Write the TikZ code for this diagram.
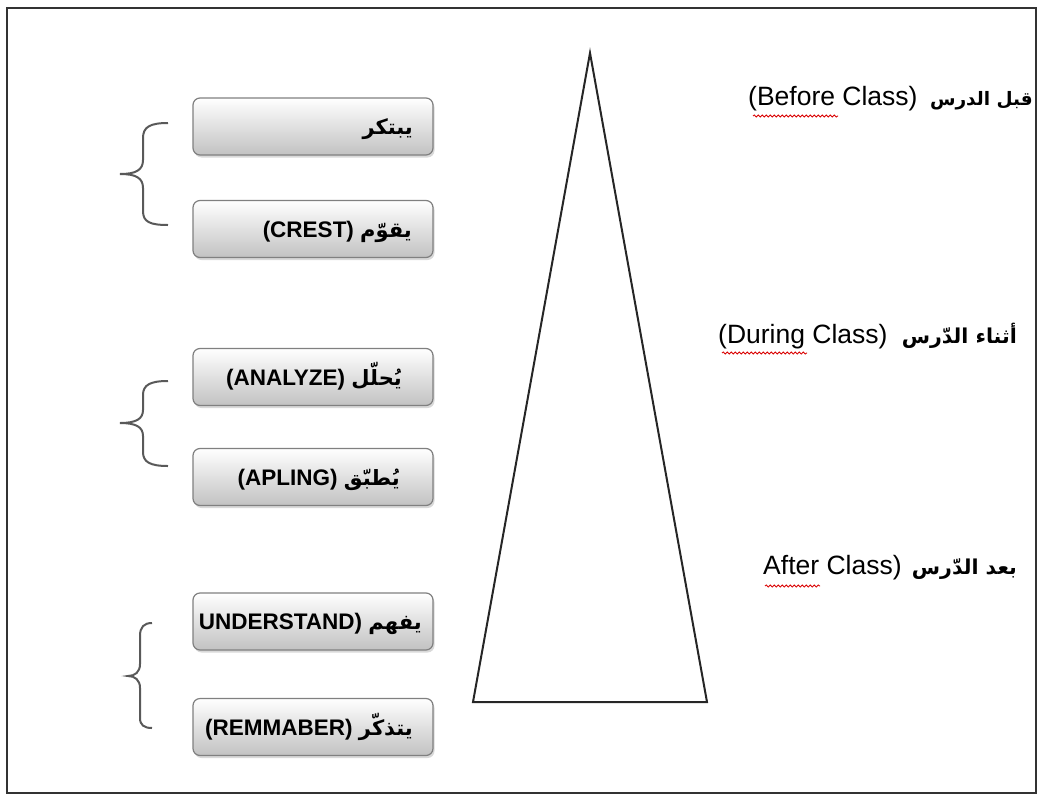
\documentclass[tikz,border=0pt]{standalone}
\usepackage{fontspec}
\setmainfont{Liberation Sans}
\newfontfamily\arabicfont[Script=Arabic]{DejaVu Sans}
\TeXXeTstate=1
\usetikzlibrary{shadows,decorations.pathmorphing}

% Arabic verb inside a level box
\newcommand\boxar[1]{{\fontsize{21}{25}\selectfont\arabicfont\bfseries\beginR #1\endR}}

\tikzset{
  stepbox/.style={draw=black!50, line width=1.2pt, rounded corners=7pt,
    top color=white, bottom color=black!24,
    minimum width=240pt, minimum height=57pt, inner sep=0pt,
    drop shadow={shadow xshift=1.5pt, shadow yshift=-2.5pt, opacity=0.3}},
  boxtext/.style={inner sep=0pt, font=\fontsize{22.5}{27}\selectfont\bfseries},
  titletext/.style={inner sep=0pt, font=\fontsize{26.5}{31}\selectfont},
  titlear/.style={inner sep=0pt, font=\fontsize{20.5}{26}\selectfont\arabicfont\bfseries},
  bracestroke/.style={draw=black!65, line width=2pt},
  squiggle/.style={draw=red!85!black, line width=0.8pt,
    decorate, decoration={snake, amplitude=1.1pt, segment length=4pt}},
}

\begin{document}
\begin{tikzpicture}[x=1pt,y=-1pt]
\useasboundingbox (0,0) rectangle (1043,795);

% outer frame
\draw[line width=2.5pt, black!80] (7,8) rectangle (1036,793);

% pyramid
\draw[line width=2pt, black!85, line join=miter] (590,53) -- (473,702) -- (707,702) -- cycle;

% level boxes
\node[stepbox] (b1) at (313,126.5) {};
\node[stepbox] (b2) at (313,229) {};
\node[stepbox] (b3) at (313,377) {};
\node[stepbox] (b4) at (313,477) {};
\node[stepbox] (b5) at (313,621.5) {};
\node[stepbox] (b6) at (313,727) {};

% box labels
\node[boxtext, anchor=base east] (l1) at (413,134) {\boxar{يبتكر}};
\node[boxtext, anchor=base east] (l2) at (412,237) {(CREST) \boxar{يقوّم}};
\node[boxtext, anchor=base east] (l3) at (402,385) {(ANALYZE) \boxar{يُحلّل}};
\node[boxtext, anchor=base east] (l4) at (400,485) {(APLING) \boxar{يُطبّق}};
\node[boxtext, anchor=base east] (l5) at (422,629.5) {UNDERSTAND) \boxar{يفهم}};
\node[boxtext, anchor=base east] (l6) at (413,735) {(REMMABER) \boxar{يتذكّر}};

% braces grouping the boxes
\draw[bracestroke] (168,123) .. controls (150,123) and (143,127) .. (143,138)
  -- (143,160) .. controls (143,170) and (136,174) .. (120,174)
  .. controls (136,174) and (143,178) .. (143,188)
  -- (143,211) .. controls (143,222) and (150,225) .. (168,225);
\draw[bracestroke] (168,381) .. controls (150,381) and (143,385) .. (143,395)
  -- (143,410) .. controls (143,419) and (136,423) .. (120,423)
  .. controls (136,423) and (143,427) .. (143,436)
  -- (143,452) .. controls (143,462) and (150,466) .. (168,466);
\draw[bracestroke] (152,623) .. controls (144,623) and (140,627) .. (140,636)
  -- (140,664) .. controls (140,672) and (135,676) .. (128,676)
  .. controls (135,676) and (140,680) .. (140,688)
  -- (140,718) .. controls (140,725) and (144,728) .. (152,728);

% stage titles
\node[titletext, anchor=base west] (t1en) at (748,105) {(Before Class)};
\node[titlear, anchor=base east, font=\fontsize{18.5}{24}\selectfont\arabicfont\bfseries] (t1ar) at (1033,105) {\beginR قبل الدرس\endR};
\node[titletext, anchor=base west] (t2en) at (718,343) {(During Class)};
\node[titlear, anchor=base east] (t2ar) at (1017,343) {\beginR أثناء الدّرس\endR};
\node[titletext, anchor=base west] (t3en) at (763,574) {After Class)};
\node[titlear, anchor=base east] (t3ar) at (1017,574) {\beginR بعد الدّرس\endR};

% spelling marks under the English words
\draw[squiggle] (753,116) -- (838,116);
\draw[squiggle] (722,353) -- (807,353);
\draw[squiggle] (765,586) -- (820,586);
\end{tikzpicture}
\end{document}
